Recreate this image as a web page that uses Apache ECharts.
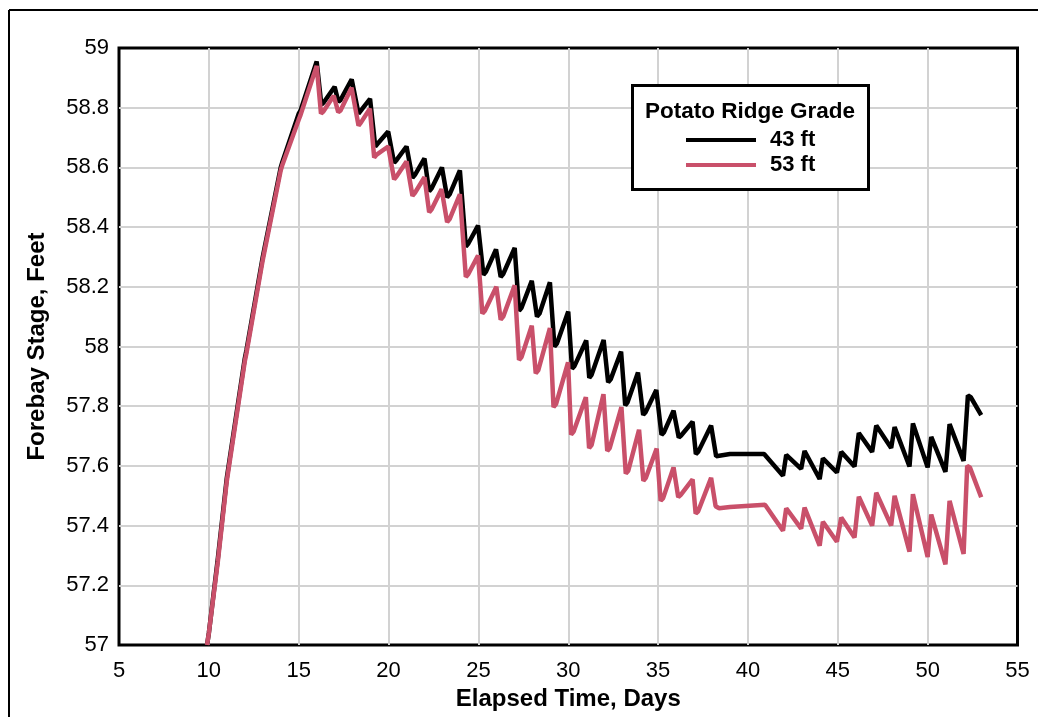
<!DOCTYPE html>
<html>
<head>
<meta charset="utf-8">
<title>Forebay Stage</title>
<script src="https://cdn.jsdelivr.net/npm/echarts@6/dist/echarts.min.js"></script>
<style>
  html, body { margin: 0; padding: 0; background: #fff; }
  #chart { width: 1038px; height: 717px; }
</style>
</head>
<body>
<div id="chart"></div>
<script>
// Forebay stage (feet) against elapsed time (days) for two ridge grades.
const FONT = '"Liberation Sans", Arial, Helvetica, sans-serif';

const xTicks = [5, 10, 15, 20, 25, 30, 35, 40, 45, 50, 55];
const yTicks = [57, 57.2, 57.4, 57.6, 57.8, 58, 58.2, 58.4, 58.6, 58.8, 59];

const seriesNames = ['43 ft', '53 ft'];
const seriesColors = ['#000000', '#c9506a'];

// 43 ft grade: rise, daily peaks with U-shaped troughs, flat spell, then late oscillation
const days43 = [
  9.9, 10.0, 10.5, 11.0, 11.1, 12.0, 12.1, 13.0, 13.1, 14.0, 14.1, 15.0, 15.1,
  16.0, 16.26, 16.4, 17.0, 17.21, 17.33, 17.95, 18.33, 18.46, 18.97, 19.26, 19.4,
  19.98, 20.31, 20.45, 21.0, 21.33, 21.47, 22.0, 22.26, 22.4, 22.97, 23.26, 23.4,
  23.97, 24.3, 24.44, 24.98, 25.28, 25.42, 25.98, 26.24, 26.38, 27.02, 27.26, 27.4,
  27.97, 28.26, 28.4, 28.98, 29.23, 29.37, 30.0, 30.21, 30.35, 31.0, 31.17, 31.3,
  31.97, 32.22, 32.36, 32.94, 33.17, 33.3, 33.88, 34.17, 34.3, 34.9, 35.19, 35.32,
  35.86, 36.15, 36.28, 36.92, 37.1, 37.23, 37.95, 38.23, 38.4, 39.0, 40.9,
  41.95, 42.13, 42.96, 43.15, 43.99, 44.17, 44.95, 45.19, 45.93, 46.17, 46.91,
  47.14, 47.97, 48.16, 48.99, 49.18, 50.0, 50.2, 50.99, 51.22, 52.0, 52.24, 52.4,
  52.98
];
const stage43 = [
  57.0, 57.04, 57.29, 57.56, 57.6, 57.96, 57.99, 58.3, 58.33, 58.6, 58.62, 58.78, 58.79,
  58.955, 58.81, 58.818, 58.87, 58.82, 58.826, 58.895, 58.78, 58.79, 58.83, 58.67, 58.68,
  58.72, 58.615, 58.625, 58.67, 58.565, 58.575, 58.63, 58.52, 58.53, 58.6, 58.5, 58.51,
  58.59, 58.335, 58.345, 58.405, 58.24, 58.25, 58.325, 58.233, 58.243, 58.33, 58.12, 58.13,
  58.22, 58.1, 58.11, 58.215, 58.0, 58.01, 58.117, 57.926, 57.935, 58.02, 57.895, 57.905,
  58.022, 57.88, 57.89, 57.983, 57.803, 57.813, 57.913, 57.771, 57.78, 57.854, 57.704, 57.712,
  57.785, 57.695, 57.702, 57.748, 57.64, 57.647, 57.735, 57.632, 57.634, 57.64, 57.64,
  57.567, 57.637, 57.59, 57.65, 57.556, 57.625, 57.578, 57.647, 57.598, 57.71, 57.647,
  57.735, 57.66, 57.73, 57.598, 57.742, 57.595, 57.697, 57.58, 57.74, 57.617, 57.836, 57.83,
  57.77
];

// 53 ft grade
const days53 = [
  9.9, 10.0, 10.5, 11.0, 11.1, 12.0, 12.1, 13.0, 13.1, 14.0, 14.1, 15.0, 15.1,
  16.0, 16.24, 16.38, 16.95, 17.2, 17.32, 17.94, 18.33, 18.46, 18.96, 19.2, 19.34,
  19.98, 20.31, 20.45, 21.0, 21.33, 21.47, 22.0, 22.26, 22.4, 22.95, 23.26, 23.4,
  23.97, 24.3, 24.44, 24.98, 25.22, 25.36, 26.0, 26.24, 26.38, 27.02, 27.26, 27.4,
  27.97, 28.19, 28.33, 28.98, 29.18, 29.32, 29.99, 30.16, 30.3, 30.98, 31.16, 31.3,
  31.96, 32.17, 32.31, 32.96, 33.2, 33.34, 33.94, 34.18, 34.32, 34.92, 35.14, 35.28,
  35.86, 36.12, 36.26, 36.92, 37.09, 37.23, 37.95, 38.2, 38.4, 39.0, 40.95,
  41.95, 42.13, 42.96, 43.15, 43.99, 44.17, 44.95, 45.19, 45.93, 46.17, 46.91,
  47.14, 47.97, 48.16, 48.99, 49.18, 50.0, 50.2, 50.99, 51.22, 52.0, 52.2, 52.35,
  52.98
];
const stage53 = [
  57.0, 57.04, 57.28, 57.55, 57.59, 57.95, 57.98, 58.29, 58.32, 58.59, 58.61, 58.76, 58.775,
  58.94, 58.78, 58.788, 58.84, 58.785, 58.79, 58.867, 58.74, 58.75, 58.797, 58.633, 58.643,
  58.67, 58.56, 58.57, 58.62, 58.505, 58.515, 58.567, 58.45, 58.46, 58.527, 58.417, 58.427,
  58.51, 58.233, 58.243, 58.305, 58.11, 58.12, 58.2, 58.09, 58.1, 58.205, 57.955, 57.965,
  58.07, 57.91, 57.92, 58.062, 57.797, 57.807, 57.947, 57.705, 57.715, 57.83, 57.66, 57.67,
  57.84, 57.65, 57.66, 57.797, 57.574, 57.584, 57.721, 57.55, 57.56, 57.658, 57.483, 57.492,
  57.595, 57.495, 57.503, 57.555, 57.44, 57.448, 57.56, 57.465, 57.458, 57.462, 57.47,
  57.383, 57.458, 57.39, 57.46, 57.333, 57.413, 57.346, 57.427, 57.36, 57.497, 57.4,
  57.51, 57.4, 57.5, 57.313, 57.505, 57.295, 57.437, 57.27, 57.483, 57.305, 57.6, 57.595,
  57.495
];

const pairs = (xs, ys) => xs.map((x, i) => [x, ys[i]]);

const chart = echarts.init(document.getElementById('chart'), null, { renderer: 'canvas' });

const axisLabelStyle = { color: '#000', fontFamily: FONT, fontSize: 22 };
const nameStyle = { color: '#000', fontFamily: FONT, fontSize: 24, fontWeight: 'bold' };
const gridLine = { show: true, showMinLine: false, showMaxLine: false,
                   lineStyle: { color: '#d2d2d2', width: 2 } };

chart.setOption({
  animation: false,
  backgroundColor: '#fff',
  textStyle: { fontFamily: FONT },
  grid: {
    left: 119, right: 20.5, top: 48, bottom: 72,
    show: true, borderColor: '#000', borderWidth: 3, backgroundColor: 'transparent'
  },
  xAxis: {
    type: 'value',
    min: xTicks[0], max: xTicks[xTicks.length - 1], interval: 5,
    name: 'Elapsed Time, Days',
    nameLocation: 'middle', nameGap: 41, nameTextStyle: nameStyle,
    axisLine: { show: false }, axisTick: { show: false },
    axisLabel: { ...axisLabelStyle, margin: 15 },
    splitLine: gridLine
  },
  yAxis: {
    type: 'value',
    min: yTicks[0], max: yTicks[yTicks.length - 1], interval: 0.2,
    name: 'Forebay Stage, Feet',
    nameLocation: 'middle', nameGap: 70, nameRotate: 90, nameTextStyle: nameStyle,
    axisLine: { show: false }, axisTick: { show: false },
    axisLabel: { ...axisLabelStyle, margin: 10,
                 formatter: v => String(Math.round(v * 10) / 10) },
    splitLine: gridLine
  },
  legend: {
    orient: 'vertical', left: 686, top: 129, padding: 0,
    itemWidth: 70, itemHeight: 4, itemGap: 3, icon: 'rect',
    selectedMode: false,
    data: seriesNames,
    textStyle: { color: '#000', fontFamily: FONT, fontSize: 22, fontWeight: 'bold',
                 lineHeight: 22, padding: [0, 0, 0, 9] }
  },
  graphic: [
    // page border
    { type: 'line', z: 10, shape: { x1: 9, y1: 10, x2: 1038, y2: 10 },
      style: { stroke: '#000', lineWidth: 2 } },
    { type: 'line', z: 10, shape: { x1: 9, y1: 10, x2: 9, y2: 717 },
      style: { stroke: '#000', lineWidth: 2 } },
    // legend frame and heading
    { type: 'rect', z: 3, shape: { x: 632.5, y: 85.5, width: 236, height: 104 },
      style: { fill: '#fff', stroke: '#000', lineWidth: 3 } },
    { type: 'text', z: 4, x: 750, y: 111.5,
      style: { text: 'Potato Ridge Grade', fill: '#000', font: 'bold 22.5px ' + FONT,
               textAlign: 'center', textVerticalAlign: 'middle' } }
  ],
  series: [
    {
      name: seriesNames[0], type: 'line', data: pairs(days43, stage43),
      color: seriesColors[0], showSymbol: false, symbol: 'none', clip: true, z: 2,
      lineStyle: { color: seriesColors[0], width: 4.5 }
    },
    {
      name: seriesNames[1], type: 'line', data: pairs(days53, stage53),
      color: seriesColors[1], showSymbol: false, symbol: 'none', clip: true, z: 2,
      lineStyle: { color: seriesColors[1], width: 4.5 }
    }
  ]
});
</script>
</body>
</html>
